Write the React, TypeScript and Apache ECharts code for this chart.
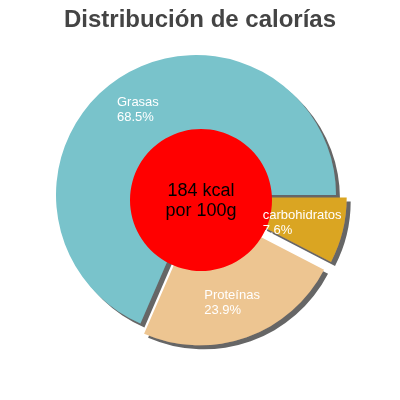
import React, { useEffect, useRef } from 'react';
import * as echarts from 'echarts';

// datos del gráfico
const categories = ['Grasas', 'Proteínas', 'carbohidratos'];
const percents = [68.5, 23.9, 7.6];
const exploded = [false, true, true];
const sliceColors = ['#79c3cb', '#edc591', '#daa520'];
const centerText = '184 kcal\npor 100g';

const FONT = 'Liberation Sans, Arial, sans-serif';
// ancho de cada etiqueta (para alinear las líneas a la izquierda)
const labelWidths = [45, 60, 88];

const App: React.FC = () => {
  const chartRef = useRef<HTMLDivElement>(null);

  useEffect(() => {
    if (!chartRef.current) return;
    const chart = echarts.init(chartRef.current, null, { renderer: 'svg' });

    const pieCenter = [196, 195];
    const pieRadius = [60, 140];

    const sliceData = categories.map((name, i) => ({
      name,
      value: percents[i],
      selected: exploded[i],
      itemStyle: { color: sliceColors[i] },
    }));

    const labelData = categories.map((name, i) => ({
      name,
      value: percents[i],
      selected: exploded[i],
      label: {
        rich: {
          t: {
            color: '#fff',
            fontSize: 13,
            lineHeight: 15,
            fontFamily: FONT,
            align: 'left',
            width: labelWidths[i],
          },
        },
      },
    }));

    const option = {
      animation: false,
      title: {
        text: 'Distribución de calorías',
        left: 'center',
        top: 1,
        textStyle: {
          fontSize: 24,
          fontWeight: 'bold',
          color: '#444',
          fontFamily: FONT,
        },
      },
      series: [
        {
          // porciones con sombra
          type: 'pie',
          z: 1,
          center: pieCenter,
          radius: pieRadius,
          startAngle: 0,
          clockwise: false,
          selectedMode: 'multiple',
          selectedOffset: 11,
          silent: true,
          emphasis: { disabled: true },
          label: { show: false },
          labelLine: { show: false },
          itemStyle: {
            borderWidth: 0,
            shadowColor: '#666',
            shadowBlur: 0,
            shadowOffsetX: 4,
            shadowOffsetY: 4,
          },
          select: { itemStyle: { borderWidth: 0 } },
          data: sliceData,
        },
        {
          // círculo rojo central
          type: 'pie',
          z: 2,
          center: [201, 200],
          radius: [0, 71],
          silent: true,
          emphasis: { disabled: true },
          itemStyle: { color: '#ff0000', borderWidth: 0 },
          label: {
            show: true,
            position: 'center',
            formatter: '{b}',
            color: '#000',
            fontSize: 18,
            lineHeight: 20,
            fontFamily: FONT,
          },
          labelLine: { show: false },
          data: [{ name: centerText, value: 1 }],
        },
        {
          // etiquetas encima del círculo
          type: 'pie',
          z: 3,
          center: pieCenter,
          radius: pieRadius,
          startAngle: 0,
          clockwise: false,
          selectedMode: 'multiple',
          selectedOffset: 11,
          silent: true,
          emphasis: { disabled: true },
          itemStyle: { color: 'rgba(0,0,0,0)', borderWidth: 0 },
          select: { itemStyle: { color: 'rgba(0,0,0,0)', borderWidth: 0 } },
          label: {
            show: true,
            position: 'inside',
            formatter: '{t|{b}}\n{t|{c}%}',
          },
          labelLine: { show: false },
          data: labelData,
        },
      ],
    };

    chart.setOption(option);
    return () => {
      chart.dispose();
    };
  }, []);

  return (
    <div
      ref={chartRef}
      style={{ position: 'fixed', left: 0, top: 0, width: 400, height: 400 }}
    ></div>
  );
};

export default App;
